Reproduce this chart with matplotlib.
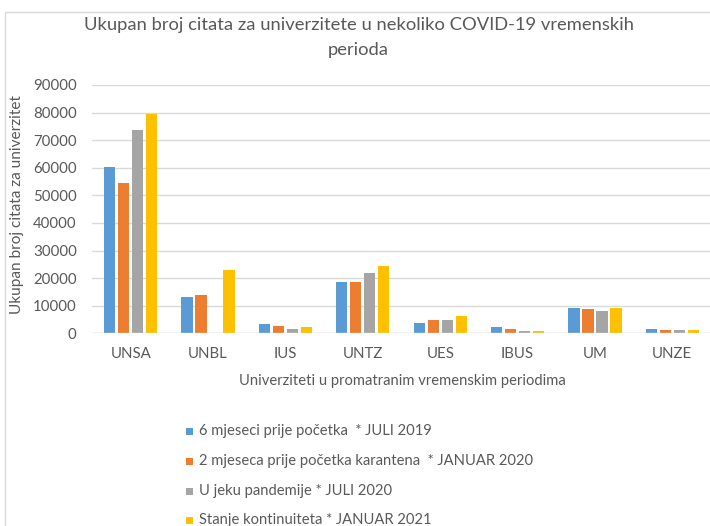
import matplotlib
matplotlib.use("Agg")
import matplotlib.pyplot as plt
from matplotlib.patches import Rectangle
import numpy as np

categories = ["UNSA", "UNBL", "IUS", "UNTZ", "UES", "IBUS", "UM", "UNZE"]
series_names = [
    "6 mjeseci prije početka  * JULI 2019",
    "2 mjeseca prije početka karantena  * JANUAR 2020",
    "U jeku pandemije * JULI 2020",
    "Stanje kontinuiteta * JANUAR 2021",
]
jul2019 = [60400, 13000, 3300, 18500, 3900, 2400, 9300, 1700]
jan2020 = [54600, 13800, 2800, 18500, 4700, 1700, 8900, 1300]
jul2020 = [73700, 0, 1700, 21900, 4700, 900, 8200, 1300]
jan2021 = [79500, 22900, 2400, 24500, 6300, 900, 9300, 1300]
yticks = [0, 10000, 20000, 30000, 40000, 50000, 60000, 70000, 80000, 90000]

colors = ["#5B9BD5", "#ED7D31", "#A5A5A5", "#FFC000"]
txt = "#595959"
font = "Lato"
plt.rcParams["font.family"] = [font, "DejaVu Sans"]

W, H = 710, 526
fig = plt.figure(figsize=(W / 100, H / 100), dpi=100)

# chart border
fig.patches.append(Rectangle((5 / W, -0.1), 1.2, (H - 12) / H + 0.1,
                             transform=fig.transFigure, fill=False,
                             edgecolor="#D9D9D9", linewidth=1))

ax = fig.add_axes([92 / W, (H - 333.3) / H, 619 / W, (333.3 - 85) / H])
x = np.arange(len(categories))
step = 0.181
bw = 0.146
data = [jul2019, jan2020, jul2020, jan2021]
for i, (vals, c) in enumerate(zip(data, colors)):
    ax.bar(x + (i - 1.5) * step, vals, width=bw, color=c,
           edgecolor="none", linewidth=0, zorder=3)

ax.set_xlim(-0.5, len(categories) - 0.5)
ax.set_ylim(0, 90000)
ax.set_yticks(yticks)
ax.set_yticklabels([str(v) for v in yticks])
ax.set_xticks(x)
ax.set_xticklabels(categories)
for s in ax.spines.values():
    s.set_visible(False)
ax.grid(axis="y", color="#D9D9D9", linewidth=1, zorder=0)
ax.tick_params(axis="both", length=0, colors=txt, labelsize=10.8)
ax.tick_params(axis="y", pad=11)
ax.tick_params(axis="x", pad=10)
ax.axhline(0, color="#D9D9D9", linewidth=1, zorder=4)

fig.text(359.5 / W, 1 - 25 / H, "Ukupan broj citata za univerzitete u nekoliko COVID-19 vremenskih",
         ha="center", va="center", fontsize=13.2, color=txt)
fig.text(358 / W, 1 - 50 / H, "perioda", ha="center", va="center", fontsize=13.2, color=txt)
fig.text(17 / W, 1 - 204 / H, "Ukupan broj citata za univerzitet", rotation=90,
         ha="center", va="center", fontsize=11.1, color=txt)
fig.text(402 / W, 1 - 381 / H, "Univerziteti u promatranim vremenskim periodima",
         ha="center", va="center", fontsize=10.6, color=txt)

row_y = [431, 461, 491, 520]
for name, c, yy in zip(series_names, colors, row_y):
    fig.patches.append(Rectangle((186 / W, 1 - (yy + 3.5) / H), 7 / W, 7 / H,
                                 transform=fig.transFigure, facecolor=c,
                                 edgecolor="none"))
    fig.text(199 / W, 1 - yy / H, name, ha="left", va="center",
             fontsize=10.65, color=txt)

fig.savefig("out.png", dpi=100)
